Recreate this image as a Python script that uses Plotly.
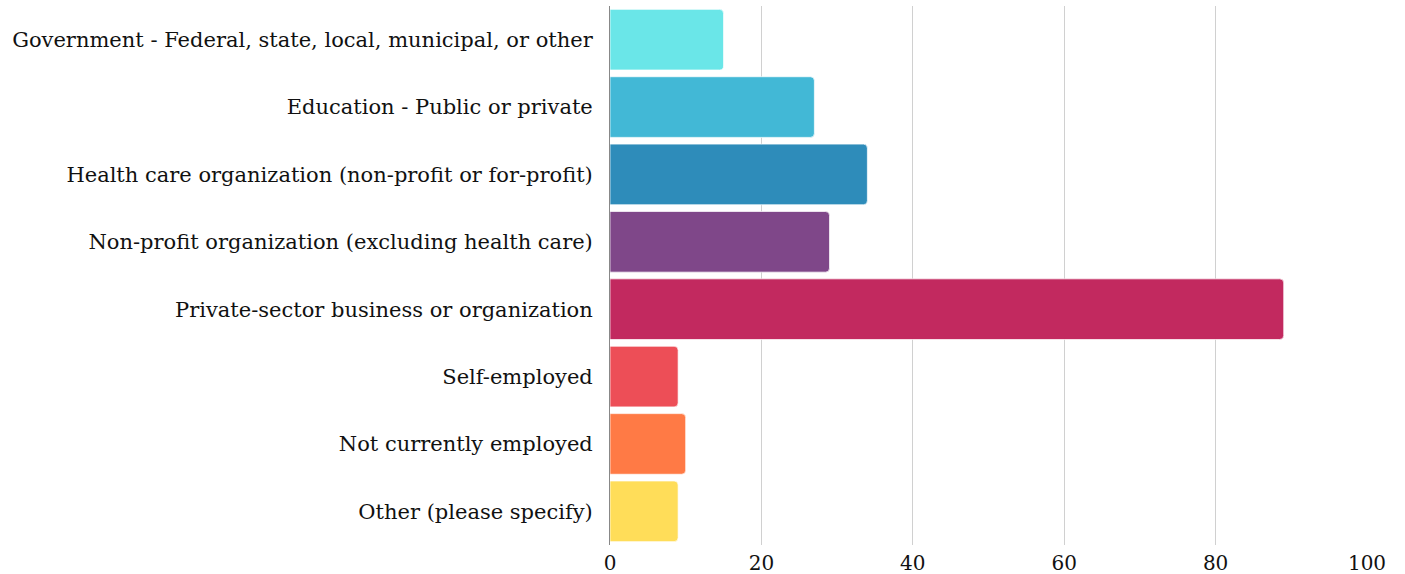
import plotly.graph_objects as go

categories = [
    "Government - Federal, state, local, municipal, or other",
    "Education - Public or private",
    "Health care organization (non-profit or for-profit)",
    "Non-profit organization (excluding health care)",
    "Private-sector business or organization",
    "Self-employed",
    "Not currently employed",
    "Other (please specify)",
]
values = [15, 27, 34, 29, 89, 9, 10, 9]
colors = ["#6ae6e8", "#42b8d6", "#2e8cba", "#7f4789", "#c2295f", "#ed4e57", "#ff7a45", "#ffdd59"]
x_ticks = [0, 20, 40, 60, 80, 100]

fig = go.Figure(go.Bar(
    y=categories,
    x=values,
    orientation="h",
    marker=dict(color=colors, cornerradius=4, line=dict(color="rgba(255,255,255,0.7)", width=1)),
))

fig.update_layout(
    width=1405, height=574,
    margin=dict(l=610, r=38, t=6, b=29),
    paper_bgcolor="white", plot_bgcolor="white",
    bargap=0.1,
    showlegend=False,
    font=dict(family="DejaVu Serif", color="#111111"),
)
fig.update_xaxes(
    range=[0, 100], tickvals=x_ticks, showgrid=True, gridcolor="#d0d0d0", gridwidth=1,
    zeroline=False, showline=False, tickfont=dict(size=20, color="#111111"),
    ticklabelstandoff=4, automargin=False,
)
fig.update_yaxes(
    autorange="reversed", showline=True, linecolor="#888888", linewidth=1,
    tickfont=dict(size=21, color="#111111"), ticklabelstandoff=12, showgrid=False,
    automargin=False,
)

fig.write_html("out.html", config={"displayModeBar": False},
               post_script="document.body.style.margin='0';")
